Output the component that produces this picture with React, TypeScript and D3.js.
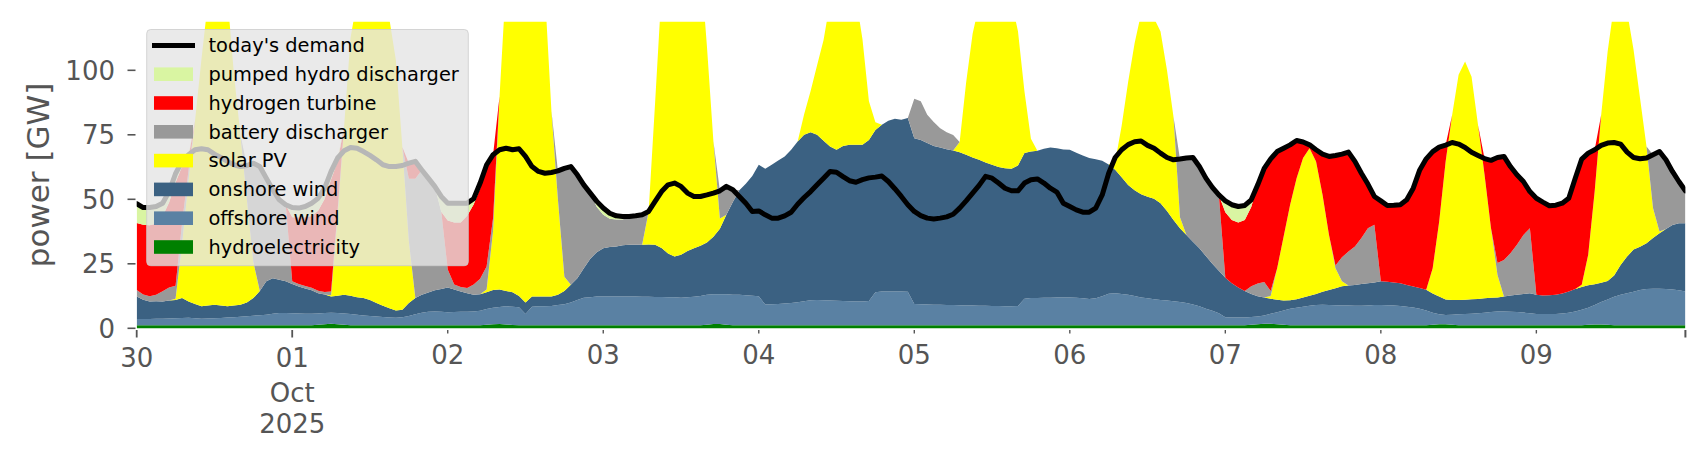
import React from "react";
import * as d3 from "d3";

// ---------- labels / categories ----------
const dayLabels = ["30", "01", "02", "03", "04", "05", "06", "07", "08", "09"];
const monthLabel = "Oct";
const yearLabel = "2025";
const yTickValues = [0, 25, 50, 75, 100];
const yLabel = "power [GW]";
const demandLabel = "today's demand";

// stack order bottom -> top
const seriesNames = [
  "hydroelectricity",
  "offshore wind",
  "onshore wind",
  "solar PV",
  "battery discharger",
  "hydrogen turbine",
  "pumped hydro discharger",
];
const seriesColors = ["#008000", "#5a81a3", "#3b6182", "#ffff00", "#999999", "#ff0000", "#d9f5a2"];

// ---------- hourly values (GW), 30 Sep 00:00 .. 9 Oct 23:00 ----------
const hydroelectricity = [
  1.2,1.2,1.2,1.2,1.2,1.2,1.2,1.2,1.2,1.2,1.2,1.2,1.2,1.2,1.2,1.2,1.2,1.2,1.2,1.2,1.2,1.2,1.2,1.2,
  1.2,1.2,1.2,1.2,1.4,1.6,1.8,1.6,1.4,1.2,1.2,1.2,1.2,1.2,1.2,1.2,1.2,1.2,1.2,1.2,1.2,1.2,1.2,1.2,
  1.2,1.2,1.2,1.2,1.2,1.2,1.4,1.6,1.7,1.5,1.3,1.2,1.2,1.2,1.2,1.2,1.2,1.2,1.2,1.2,1.2,1.2,1.2,1.2,
  1.2,1.2,1.2,1.2,1.2,1.2,1.2,1.2,1.2,1.2,1.2,1.2,1.2,1.2,1.2,1.2,1.4,1.7,1.7,1.4,1.2,1.2,1.2,1.2,
  1.2,1.2,1.2,1.2,1.2,1.2,1.2,1.2,1.2,1.2,1.2,1.2,1.2,1.2,1.2,1.2,1.2,1.2,1.2,1.2,1.2,1.2,1.2,1.2,
  1.2,1.2,1.2,1.2,1.2,1.2,1.2,1.2,1.2,1.2,1.2,1.2,1.2,1.2,1.2,1.2,1.2,1.2,1.2,1.2,1.2,1.2,1.2,1.2,
  1.2,1.2,1.2,1.2,1.2,1.2,1.2,1.2,1.2,1.2,1.2,1.2,1.2,1.2,1.2,1.2,1.2,1.2,1.2,1.2,1.2,1.2,1.2,1.2,
  1.2,1.2,1.2,1.2,1.4,1.6,1.8,1.8,1.6,1.4,1.2,1.2,1.2,1.2,1.2,1.2,1.2,1.2,1.2,1.2,1.2,1.2,1.2,1.2,
  1.2,1.2,1.2,1.2,1.2,1.2,1.2,1.2,1.4,1.6,1.6,1.4,1.2,1.2,1.2,1.2,1.2,1.2,1.2,1.2,1.2,1.2,1.2,1.2,
  1.2,1.2,1.2,1.2,1.2,1.2,1.2,1.2,1.4,1.5,1.5,1.4,1.2,1.2,1.2,1.2,1.2,1.2,1.2,1.2,1.2,1.2,1.2,1.2,
];

const offshoreWind = [
  2.4,2.4,2.4,2.5,2.5,2.6,2.7,2.8,2.9,2.7,2.5,2.6,2.7,2.8,3.0,3.1,3.3,3.5,3.7,3.9,4.1,4.4,4.7,4.7,
  4.6,4.5,4.4,4.4,4.3,4.3,4.2,4.3,4.3,4.3,4.1,3.8,3.6,3.4,3.2,3.0,2.9,3.1,3.6,4.2,4.8,5.2,5.3,5.2,
  5.0,5.1,5.2,5.2,5.3,5.6,6.1,6.4,6.6,7.0,7.1,7.0,4.3,7.2,7.3,7.3,7.4,7.8,8.1,8.8,9.8,10.6,10.8,11.1,
  11.1,11.1,11.1,11.1,11.1,11.1,11.0,11.0,10.9,10.9,10.8,10.8,10.6,10.8,11.0,11.3,11.6,11.5,11.5,11.8,11.8,11.8,11.6,11.4,
  11.2,8.0,8.1,8.2,8.4,8.6,8.9,9.3,9.7,9.8,9.7,9.6,9.5,9.4,9.3,9.2,9.2,9.4,12.8,13.1,13.1,13.1,13.1,13.0,
  8.2,8.1,8.0,7.9,7.9,7.8,7.8,7.7,7.6,7.6,7.5,7.5,7.4,7.4,7.3,7.3,7.4,10.3,10.5,10.5,10.6,10.6,10.7,10.7,
  10.7,10.6,10.4,10.2,10.4,11.2,12.2,12.4,12.1,11.8,11.3,10.7,10.4,10.1,9.8,9.6,9.3,9.0,8.6,8.0,7.3,6.4,5.6,4.6,
  3.1,3.0,3.0,3.0,3.0,3.0,3.2,3.8,4.6,5.5,6.4,6.8,7.2,7.5,7.8,7.9,7.8,7.7,7.6,7.6,7.5,7.5,7.6,7.8,
  7.8,7.7,7.6,7.4,7.2,6.9,6.4,5.7,4.6,3.8,3.6,3.9,4.2,4.3,4.4,4.6,4.8,5.1,5.3,5.3,5.2,5.1,4.9,4.6,
  4.3,4.3,4.3,4.3,4.5,4.8,5.3,6.0,6.6,7.5,8.7,9.8,11.0,11.8,12.4,13.0,13.6,14.0,14.1,14.1,14.0,13.8,13.5,13.1,
];

const onshoreWind = [
  8.7,7.5,6.8,6.8,6.7,7.0,7.1,7.7,6.3,5.5,4.8,5.0,5.2,4.8,4.3,4.5,4.6,5.3,6.8,9.4,12.9,13.8,12.9,12.3,
  11.4,10.5,9.8,9.1,7.9,7.2,6.3,6.7,7.3,7.1,6.7,6.7,6.2,5.2,4.3,3.6,2.8,2.9,5.0,6.3,7.0,7.5,8.2,8.8,
  9.6,8.7,7.9,7.2,6.5,6.4,6.5,6.8,6.7,6.0,5.6,4.3,4.5,3.9,3.8,3.8,3.7,4.0,5.2,6.9,8.4,11.5,15.0,17.2,
  18.7,19.2,19.4,19.9,20.1,20.1,20.2,20.3,20.3,19.0,17.0,15.8,16.7,18.0,18.8,19.5,20.3,22.3,25.4,30.8,36.0,40.5,43.2,46.4,
  51.0,52.6,54.1,55.6,57.0,59.4,62.3,64.5,65.1,64.0,61.8,59.7,58.5,60.1,60.6,60.7,60.7,62.4,62.9,64.6,66.1,66.9,66.5,67.3,
  64.3,63.7,62.6,61.6,61.0,60.4,59.9,59.3,58.5,57.4,56.6,55.6,54.8,53.9,53.5,53.3,54.5,56.4,56.8,57.1,57.8,58.3,57.9,57.4,
  57.3,56.2,55.4,54.6,53.9,52.5,50.1,47.9,45.2,42.5,41.0,40.1,39.4,38.9,37.5,34.7,31.5,28.6,26.4,24.3,22.5,20.4,18.2,16.5,
  15.3,13.3,11.6,10.3,8.9,7.8,6.9,5.9,4.9,3.9,3.3,3.3,3.5,3.9,4.3,5.1,5.8,6.6,7.5,7.8,8.1,8.5,8.7,8.8,
  9.2,9.1,9.0,8.9,8.4,8.1,8.0,8.0,7.5,6.9,6.0,5.7,5.6,5.6,5.7,5.6,5.6,5.5,5.4,5.8,6.3,6.7,7.2,7.8,
  7.5,7.2,7.3,7.5,7.8,8.3,8.7,8.8,8.7,8.1,7.5,7.1,8.3,11.5,14.2,16.3,16.8,17.8,19.7,21.5,23.3,25.0,26.0,26.4,
];

const solarPV = [
  0,0,0,0,0,0,0.5,21,47,71,96,118,130,130,120,90,66,40,14,0,0,0,0,0,
  0,0,0,0,0,0,0.5,31,65,100,115,130,135,130,125,112,97,63,24,0,0,0,0,0,
  0,0,0,0,0,0,1,23,75,120,135,140,140,135,128,118,72,37,5.5,0,0,0,0,0,
  0,0,0,0,0,0,0,12.7,55,100,120,135,140,135,125,110,76,37,4,0,0,0,0,0,
  0,0,0,0,0,0,0,8,16,27,39,56,62,63,62,57,41,15,3,0,0,0,0,0,
  0,0,0,0,0,0,0,4,28,48,60,68,72,73,70,65,52,24,5,0,0,0,0,0,
  0,0,0,0,0,0,0,3,20,40,57,70,73,70,66.5,54.5,40,4.2,0,0,0,0,0,0,
  0,0,0,0,0,0,0,1,12.2,24.8,37,46.9,54.1,57.2,51.4,37.6,21.4,7.8,1.9,0,0,0,0,0,
  0,0,0,0,0,0,0,0,9.8,29,53.5,71.7,87.3,92.3,86.2,67.4,48,27,8.8,0,0,0,0,0,
  0,0,0,0,0,0,0,0.9,11.8,36,65,89,105,102,95,77.5,57.6,37.5,11.6,0.7,0,0,0,0,
];

const batteryDischarger = [
  2.5,2,2,2.5,4,5,5,8,4,0,0,0,0,0,0,0,0,13.1,38.3,48.2,40,34.3,31,29.7,
  1,1,1,1,1,1,1.5,2,0,0,0,0,0,0,0,0,0,0,24.2,46.3,48.4,44.3,40.3,30,
  7,2,1.7,2,4,6,9,5,0,0,0,0,0,0,0,0,0,11,42,45.8,40.1,32.3,25.4,17.5,
  13,11,10.5,10,10.9,11.2,11.6,0,0,0,0,0,0,0,0,0,0,0,10.7,11,4.7,0,0,0,
  0,0,0,0,0,0,0,0,0,0,0,0,0,0,0,0,0,0,0,0,0,0,0,0,
  15.3,15,11,9.3,7.4,6.6,6,0,0,0,0,0,0,0,0,0,0,0,0,0,0,0,0,0,
  0,0,0,0,0,0,0,0,0,0,0,0,0,0,0,0,0,22.6,29.8,32.7,31.7,30.2,29.6,29.4,
  0,0,0,0,3,5,6,2,0,0,0,0,0,0,0,0,0,1,9.3,13.2,14.9,17.8,21.3,22.3,
  0,0,0,0,0,0,0,0,0,0,0,0,0,0,0,0,0,0,4.6,14.2,16.4,19.4,22.9,25.2,
  0,0,0,0,0,0,0,0,0,0,0,0,0,0,0,0,0,0,20.7,31,26.8,20.8,16.2,12.6,
];

const hydrogenTurbine = [
  26,27,27.5,27.5,29,33,40,22,5,0,0,0,0,0,0,0,0,0,0,0,0,0,0,0,
  24.8,25.8,26.6,27.8,31,36,43.5,19,0,0,0,0,0,0,0,0,0,0,6,6.7,0,0,0,0,
  19,24,25,28,31,35,39,24.5,0,0,0,0,0,0,0,0,0,0,0,0,0,0,0,0,
  0,0,0,0,0,0,0,0,0,0,0,0,0,0,0,0,0,0,0,0,0,0,0,0,
  0,0,0,0,0,0,0,0,0,0,0,0,0,0,0,0,0,0,0,0,0,0,0,0,
  0,0,0,0,0,0,0,0,0,0,0,0,0,0,0,0,0,0,0,0,0,0,0,0,
  0,0,0,0,0,0,0,0,0,0,0,0,0,0,0,0,0,0,0,0,0,0,0,0,
  25.4,24.5,25.2,27.5,30.7,38.2,44.1,51.2,45.2,34.2,23.2,14.6,6.2,1.3,4.5,15.7,30.4,42.7,40,38.5,33,25.1,17.1,11,
  31.2,29.6,29.9,30.4,33,38.1,45.8,50.8,45.2,28.9,6.3,0,0,0,0,0,6.2,26.3,40.9,40.1,33.6,27.1,20.7,14.2,
  37.4,36.2,34.7,34.7,35,36.1,43,48.7,39.4,16.1,0,0,0,0,0,0,0,0,0,0,0,0,0,0,
];

const pumpedHydroDischarger = [
  7.5,6.7,6.9,6.7,5.1,4.2,3.5,2,0.9,0,0,0,0,0,0,0,0,0,0,0,0,0,0,0,
  3.8,3.6,4.2,5,4.8,4.2,3,1.4,0,0,0,0,0,0,0,0,0,0,0,0,0,0,0,5.9,
  6.7,7.5,7.5,4.9,2.2,2.1,0.4,0,0,0,0,0,0,0,0,0,0,0,0,0,0,0,0,2.2,
  2.6,2.1,1.4,1.1,0,0,0,0,0,0,0,0,0,0,0,0,0,0,0,0,0,0,0,0,
  0,0,0,0,0,0,0,0,0,0,0,0,0,0,0,0,0,0,0,0,0,0,0,0,
  0,0,0,0,0,0,0,0,0,0,0,0,0,0,0,0,0,0,0,0,0,0,0,0,
  0,0,0,0,0,0,0,0,0,0,0,0,0,0,0,0,0,0,0,0,0,0,0,0,
  4.4,5.9,6.2,5.6,2.8,0,0,0,0,0,0,0,0,0,0,0,0,0,0,0,0,0,0,0,
  0,0,0,0,0,0,0,0,0,0,0,0,0,0,0,0,0,0,0,0,0,0,0,0,
  0,0,0,0,0,0,0,0,0,0,0,0,0,0,0,0,0,0,0,0,0,0,0,0,
];

const todaysDemand = [
  48.3,46.8,46.8,47.2,48.5,53.0,60.0,64.7,67.3,69.2,69.6,69.2,67.5,66.2,64.7,63.4,62.7,63.1,64.0,62.7,58.2,53.7,49.8,47.9,
  46.8,46.6,47.2,48.5,50.4,54.3,60.8,66.0,68.8,70.1,69.8,68.5,67.0,65.3,63.4,62.7,62.7,63.1,64.0,64.7,61.4,58.2,55.0,51.1,
  48.5,48.5,48.5,48.5,50.2,56.3,63.4,67.3,69.2,69.8,69.2,69.6,66.6,62.7,60.8,60.1,60.4,61.0,62.0,62.7,59.5,55.6,52.4,49.2,
  46.6,44.6,43.6,43.3,43.3,43.6,44.0,45.3,49.2,53.0,55.6,56.3,55.0,52.4,51.1,51.1,51.7,52.4,53.3,55.0,53.7,51.1,48.5,45.3,
  45.5,44.0,42.7,42.7,43.6,45.0,48.1,50.7,53.0,55.6,58.2,60.8,60.5,58.8,57.2,56.6,57.6,58.3,58.6,59.0,56.9,54.1,51.1,47.9,
  45.3,43.7,42.7,42.4,42.7,43.2,44.2,46.6,49.4,52.4,55.4,58.9,58.2,56.3,54.3,53.3,53.3,56.3,57.6,57.9,56.3,54.3,52.8,48.5,
  47.2,45.9,45.0,45.0,46.6,51.7,60.1,66.2,69.2,71.2,72.3,72.6,70.9,69.8,67.9,66.2,65.3,65.6,66.0,66.2,62.7,58.2,54.6,51.7,
  49.4,47.9,47.2,47.6,49.8,55.6,62.0,65.7,68.5,69.8,71.1,72.8,72.2,71.1,69.2,67.5,66.6,67.0,67.5,68.3,64.7,60.1,55.9,51.1,
  49.4,47.6,47.7,47.9,49.8,54.3,61.4,65.7,68.5,70.2,71.0,72.0,71.4,70.1,68.2,67.0,65.8,65.1,66.2,66.6,62.7,59.5,56.9,53.0,
  50.4,48.9,47.5,47.7,48.5,50.4,58.2,65.6,67.9,69.2,70.9,71.8,72.0,71.4,68.3,66.2,65.7,66.0,67.3,68.5,65.3,60.8,56.9,53.3,
];

const seriesValues = [
  hydroelectricity,
  offshoreWind,
  onshoreWind,
  solarPV,
  batteryDischarger,
  hydrogenTurbine,
  pumpedHydroDischarger,
];

const FONT = "'DejaVu Sans', 'Liberation Sans', sans-serif";
const TICK_COLOR = "#555555";

export default function App() {
  const width = 1706;
  const height = 460;
  const plotLeft = 136.7;
  const plotRight = 1685.4;
  const plotTop = 21.8;
  const plotBottom = 328.3;

  const start = Date.UTC(2025, 8, 30, 0, 0, 0);
  const times = todaysDemand.map((_, i) => new Date(start + i * 3600 * 1000));

  const x = d3.scaleUtc().domain([times[0], times[times.length - 1]]).range([plotLeft, plotRight]);
  const y = d3.scaleLinear().domain([0, 118.8]).range([plotBottom, plotTop]);

  const rows = times.map((t, i) => {
    const r: any = { t };
    seriesNames.forEach((n, k) => {
      r[n] = seriesValues[k][i] ?? 0;
    });
    return r;
  });

  const stacked = d3.stack<any>().keys(seriesNames)(rows);
  const area = d3
    .area<any>()
    .x((d: any) => x(d.data.t))
    .y0((d: any) => y(d[0]))
    .y1((d: any) => y(d[1]));

  const demandLine = d3
    .line<number>()
    .x((_, i) => x(times[i]))
    .y((d) => y(d));

  const dayTicks = d3.utcDay.range(times[0], new Date(times[times.length - 1].getTime() + 1));

  // legend
  const legX = 146.7;
  const legY = 29.5;
  const legW = 321.6;
  const legH = 236.2;
  const rowY = [45.5, 74.2, 103.0, 131.8, 160.6, 189.4, 218.2, 247.0];
  const legendItems = [
    { label: demandLabel, color: "#000", line: true },
    ...seriesNames
      .map((n, k) => ({ label: n, color: seriesColors[k], line: false }))
      .reverse(),
  ];

  return (
    <div style={{ position: "absolute", left: 0, top: 0 }}>
      <svg width={width} height={height} style={{ display: "block", background: "#fff" }} fontFamily={FONT}>
        <defs>
          <clipPath id="plotClip">
            <rect x={plotLeft} y={plotTop} width={plotRight - plotLeft} height={plotBottom - plotTop + 1} />
          </clipPath>
        </defs>

        <g clipPath="url(#plotClip)">
          {stacked.map((s, k) => (
            <path key={seriesNames[k]} d={area(s as any) || ""} fill={seriesColors[k]} stroke="none" />
          ))}
          <path
            d={demandLine(todaysDemand) || ""}
            fill="none"
            stroke="#000"
            strokeWidth={5}
            strokeLinejoin="round"
            strokeLinecap="round"
          />
        </g>

        {/* y axis */}
        {yTickValues.map((v) => (
          <g key={"y" + v}>
            <line x1={127.5} x2={135.5} y1={y(v)} y2={y(v)} stroke={TICK_COLOR} strokeWidth={1.6} />
            <text x={115} y={y(v) + 9.5} textAnchor="end" fontSize={26} fill={TICK_COLOR}>
              {v}
            </text>
          </g>
        ))}
        <text
          transform={`translate(37.5, 175) rotate(-90)`}
          textAnchor="middle"
          dominantBaseline="central"
          fontSize={31}
          fill={TICK_COLOR}
        >
          {yLabel}
        </text>

        {/* x axis */}
        {dayTicks.map((d, i) => {
          const major = i <= 1;
          const xx = x(d);
          return (
            <g key={"x" + i}>
              <line
                x1={xx}
                x2={xx}
                y1={330}
                y2={major ? 337.5 : 333.5}
                stroke={TICK_COLOR}
                strokeWidth={major ? 1.8 : 1.4}
              />
              <text x={xx} y={major ? 367 : 364} textAnchor="middle" fontSize={26} fill={TICK_COLOR}>
                {dayLabels[i]}
              </text>
              {i === 1 && (
                <>
                  <text x={xx} y={401.5} textAnchor="middle" fontSize={26} fill={TICK_COLOR}>
                    {monthLabel}
                  </text>
                  <text x={xx} y={433.3} textAnchor="middle" fontSize={26} fill={TICK_COLOR}>
                    {yearLabel}
                  </text>
                </>
              )}
            </g>
          );
        })}
        <line
          x1={x(times[times.length - 1])}
          x2={x(times[times.length - 1])}
          y1={330}
          y2={337.5}
          stroke={TICK_COLOR}
          strokeWidth={2}
        />

        {/* legend */}
        <g>
          <rect
            x={legX}
            y={legY}
            width={legW}
            height={legH}
            rx={4}
            ry={4}
            fill="#e5e5e5"
            fillOpacity={0.8}
            stroke="#cccccc"
            strokeOpacity={0.8}
            strokeWidth={1}
          />
          {legendItems.map((it, i) => (
            <g key={it.label}>
              {it.line ? (
                <line x1={152} x2={195} y1={rowY[i]} y2={rowY[i]} stroke="#000" strokeWidth={5} />
              ) : (
                <rect x={154} y={rowY[i] - 6.8} width={39} height={13.6} fill={it.color} />
              )}
              <text x={208.5} y={rowY[i] + 6.8} fontSize={19.4} fill="#000">
                {it.label}
              </text>
            </g>
          ))}
        </g>
      </svg>
    </div>
  );
}
